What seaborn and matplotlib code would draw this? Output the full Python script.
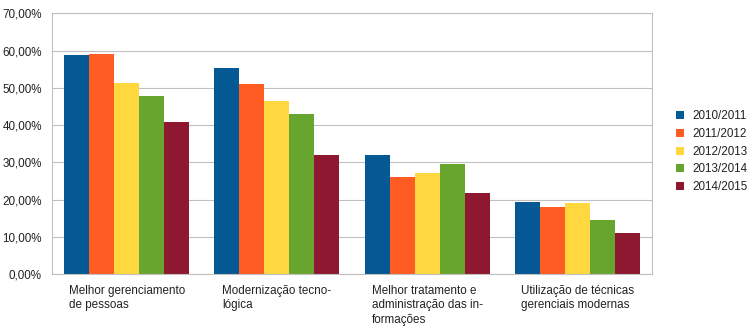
import matplotlib
matplotlib.use("Agg")
import matplotlib.pyplot as plt
from matplotlib.ticker import FuncFormatter, FixedLocator
from matplotlib.patches import Patch
import seaborn as sns
import pandas as pd

categories = [
    "Melhor gerenciamento\nde pessoas",
    "Modernização tecno-\nlógica",
    "Melhor tratamento e\nadministração das in-\nformações",
    "Utilização de técnicas\ngerenciais modernas",
]
periods = ["2010/2011", "2011/2012", "2012/2013", "2013/2014", "2014/2015"]
v_2010_2011 = [58.9, 55.2, 32.1, 19.4]
v_2011_2012 = [59.2, 51.0, 26.2, 18.1]
v_2012_2013 = [51.3, 46.4, 27.2, 19.2]
v_2013_2014 = [47.8, 43.0, 29.7, 14.7]
v_2014_2015 = [40.9, 31.9, 21.9, 11.0]
colors = ["#045994", "#ff5c24", "#ffd73e", "#67a52f", "#8e1830"]
y_ticks = [0, 10, 20, 30, 40, 50, 60, 70]

series = [v_2010_2011, v_2011_2012, v_2012_2013, v_2013_2014, v_2014_2015]
rows = []
for period, vals in zip(periods, series):
    for cat, v in zip(categories, vals):
        rows.append({"categoria": cat, "periodo": period, "valor": v})
df = pd.DataFrame(rows)

FS = 8.35
sns.set_style("white")
plt.rcParams["font.family"] = ["Liberation Sans", "DejaVu Sans"]
plt.rcParams["font.size"] = FS

fig = plt.figure(figsize=(7.49, 3.31), dpi=100)
ax = fig.add_axes([0.069, 0.171, 0.802, 0.789])

sns.barplot(data=df, x="categoria", y="valor", hue="periodo",
            order=categories, hue_order=periods, palette=colors,
            width=0.833, saturation=1, linewidth=0, legend=False, ax=ax)

grid_c = "#c0c0c0"
ax.set_ylim(0, 70)
ax.set_xlim(-0.5, len(categories) - 0.5)
ax.yaxis.set_major_locator(FixedLocator(y_ticks))
ax.yaxis.set_major_formatter(
    FuncFormatter(lambda v, _: f"{v:.2f}".replace(".", ",") + "%"))
ax.grid(axis="y", color=grid_c, linewidth=0.8)
ax.set_axisbelow(True)
for s in ax.spines.values():
    s.set_color(grid_c)
    s.set_linewidth(0.8)

ax.set_xlabel("")
ax.set_ylabel("")
ax.tick_params(axis="y", length=5, width=0.8, color=grid_c, pad=2,
               labelcolor="#222222", labelsize=FS)
ax.tick_params(axis="x", which="major", length=0, pad=7.5,
               labelcolor="#222222", labelsize=FS)
ax.set_xticks(range(len(categories)))
ax.set_xticklabels(categories)
for lbl in ax.get_xticklabels():
    lbl.set_ha("center")
    lbl.set_va("top")
    lbl.set_multialignment("left")
    lbl.set_linespacing(1.28)
ax.set_xticks([i - 0.5 for i in range(len(categories) + 1)], minor=True)
ax.tick_params(axis="x", which="minor", length=5, width=0.8, color=grid_c)

handles = [Patch(facecolor=c, edgecolor="none") for c in colors]
fig.legend(handles, periods, loc="center left",
           bbox_to_anchor=(670 / 749, 1 - 151.7 / 331),
           frameon=False, fontsize=FS, handlelength=0.7, handleheight=0.7,
           handletextpad=0.75, labelspacing=0.5, borderpad=0,
           labelcolor="#222222")

fig.savefig("out.png", dpi=100)
